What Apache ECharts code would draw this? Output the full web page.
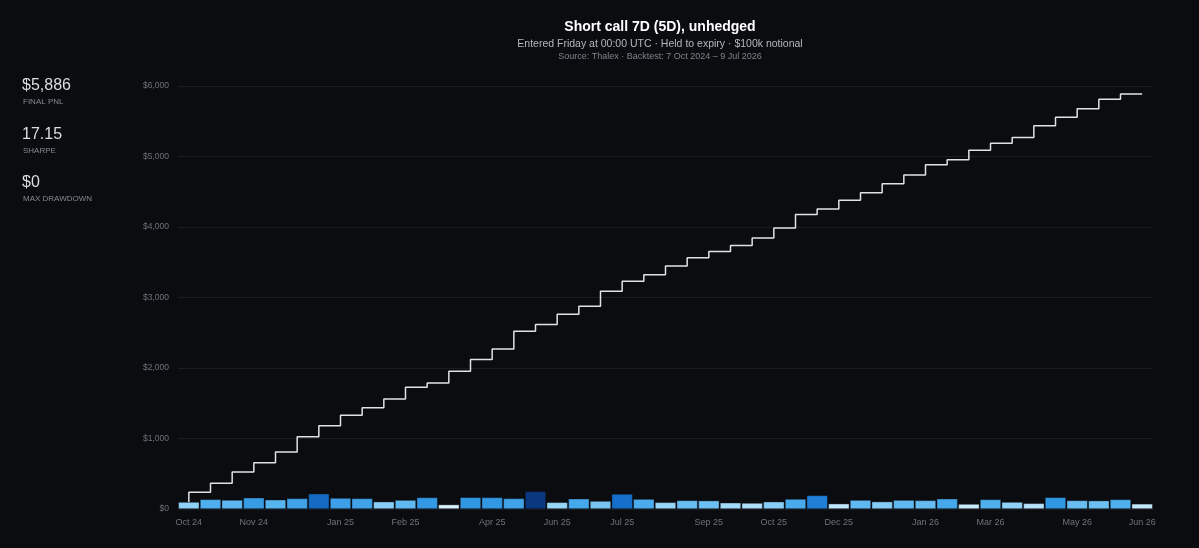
<!DOCTYPE html>
<html>
<head>
<meta charset="utf-8">
<script src="https://cdn.jsdelivr.net/npm/echarts@6/dist/echarts.min.js"></script>
<style>
html,body{margin:0;padding:0;background:#0b0c10;}
#chart{width:1199px;height:548px;}
</style>
</head>
<body>
<div id="chart"></div>
<script>
// Category (bar) month labels, one per trade
var categories = [
  'Oct 24','Oct 24','Nov 24','Nov 24','Dec 24','Dec 24','Dec 24','Jan 25','Jan 25','Feb 25',
  'Feb 25','Mar 25','Mar 25','Apr 25','Apr 25','May 25','May 25','Jun 25','Jun 25','Jun 25',
  'Jul 25','Jul 25','Aug 25','Aug 25','Sep 25','Sep 25','Oct 25','Oct 25','Nov 25','Nov 25',
  'Dec 25','Dec 25','Dec 25','Jan 26','Jan 26','Feb 26','Feb 26','Mar 26','Mar 26','Apr 26',
  'Apr 26','May 26','May 26','Jun 26','Jun 26'
];
// Indices of categories whose label is shown on the x axis
var shownTickIndex = [0,3,7,10,14,17,20,24,27,30,34,37,41,44];
// Per-trade PnL ($)
var tradePnl = [
  99,137,128,160,132,151,217,156,151,104,
  127,164,63,166,165,151,250,95,146,113,
  213,141,95,122,119,89,85,104,142,193,
  76,127,105,127,123,146,71,136,99,81,
  166,122,119,136,74
];
// Cumulative PnL ($)
var cumPnl = [
  99,236,364,524,656,807,1024,1180,1331,1435,
  1562,1726,1789,1955,2120,2271,2521,2616,2762,2875,
  3088,3229,3324,3446,3565,3654,3739,3843,3985,4178,
  4254,4381,4486,4613,4736,4882,4953,5089,5188,5269,
  5435,5557,5676,5812,5886
];
var yTicks = [0,1000,2000,3000,4000,5000,6000];
var stats = [
  {value:'$5,886', label:'FINAL PNL'},
  {value:'17.15', label:'SHARPE'},
  {value:'$0', label:'MAX DRAWDOWN'}
];
var titleText = 'Short call 7D (5D), unhedged';
var subText1 = 'Entered Friday at 00:00 UTC \u00b7 Held to expiry \u00b7 $100k notional';
var subText2 = 'Source: Thalex \u00b7 Backtest: 7 Oct 2024 \u2013 9 Jul 2026';

var FONT = '"Liberation Sans", Arial, sans-serif';
var chart = echarts.init(document.getElementById('chart'), null, {renderer:'canvas'});

var graphics = [
  {type:'text', style:{text:titleText, x:660, y:27, textAlign:'center', textVerticalAlign:'middle', fill:'#ffffff', font:'bold 14px ' + FONT}},
  {type:'text', style:{text:subText1, x:660, y:44, textAlign:'center', textVerticalAlign:'middle', fill:'#b4b7bd', font:'10.5px ' + FONT}},
  {type:'text', style:{text:subText2, x:660, y:57, textAlign:'center', textVerticalAlign:'middle', fill:'#80838a', font:'9px ' + FONT}}
];
stats.forEach(function(s, i){
  var y0 = 86 + i * 48.5;
  graphics.push({type:'text', style:{text:s.value, x:22, y:y0, textAlign:'left', textVerticalAlign:'middle', fill:'#dcdde0', font:'300 16px ' + FONT}});
  graphics.push({type:'text', style:{text:s.label, x:23, y:y0 + 16, textAlign:'left', textVerticalAlign:'middle', fill:'#868990', font:'8px ' + FONT}});
});

chart.setOption({
  backgroundColor:'#0b0c10',
  animation:false,
  grid:{left:178, right:46, top:86, bottom:39},
  graphic:graphics,
  visualMap:{
    show:false, type:'continuous', seriesIndex:0, dimension:1, min:60, max:250,
    inRange:{color:['#e0f4fd','#92d3f7','#4fb0ee','#2a90e0','#1670cc','#0a3880']}
  },
  xAxis:{
    type:'category', data:categories, boundaryGap:true,
    axisLine:{show:false}, axisTick:{show:false},
    axisLabel:{
      color:'#6f727a', fontSize:9, fontFamily:FONT, margin:9,
      interval:function(idx){ return shownTickIndex.indexOf(idx) >= 0; }
    },
    splitLine:{show:false}
  },
  yAxis:{
    type:'value', min:yTicks[0], max:yTicks[yTicks.length-1], interval:1000,
    axisLine:{show:false}, axisTick:{show:false},
    axisLabel:{color:'#6f727a', fontSize:8.5, fontFamily:FONT, margin:9,
      formatter:function(v){ return '$' + v.toLocaleString('en-US'); }},
    splitLine:{lineStyle:{color:'#1a1c22', width:1}}
  },
  series:[
    {
      type:'bar', data:tradePnl, barCategoryGap:'3%',
      itemStyle:{borderColor:'rgba(11,12,16,0.6)', borderWidth:0.6},
      z:2
    },
    {
      type:'line', data:cumPnl, step:'start', symbol:'none',
      lineStyle:{color:'#e2e2e2', width:1.5},
      z:3
    }
  ]
});
</script>
</body>
</html>
